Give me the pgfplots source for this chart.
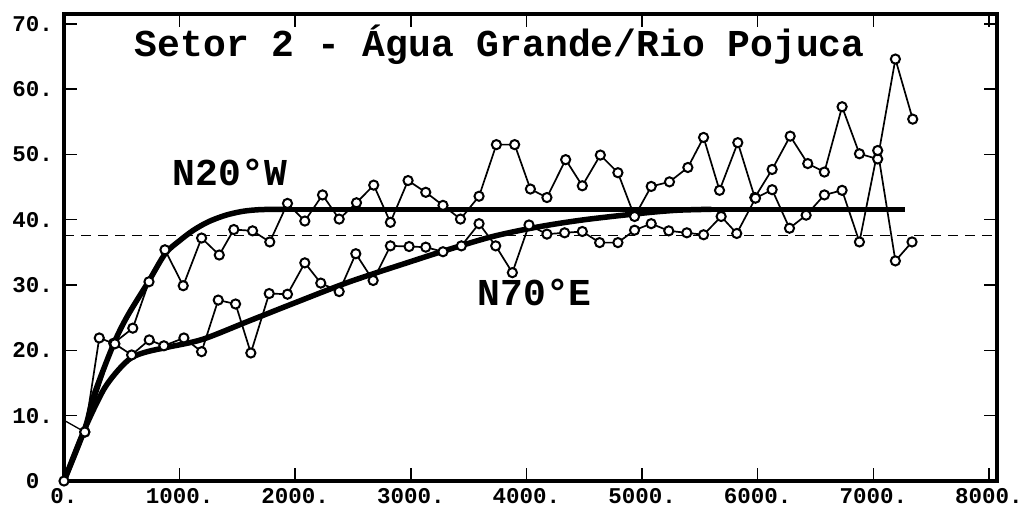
\documentclass[border=0pt]{standalone}
\usepackage{pgfplots}
\pgfplotsset{compat=1.18}
\usepackage{fontspec}
\setmainfont{Liberation Mono}

\pgfplotstableread{
x y
0 0
180 7.5
430 21.1
595 23.4
735 30.5
873 35.4
1031 29.9
1190 37.2
1343 34.6
1469 38.5
1631 38.3
1780 36.6
1933 42.5
2083 39.8
2236 43.8
2380 40.1
2530 42.6
2679 45.3
2823 39.6
2976 46.0
3129 44.2
3278 42.2
3429 40.1
3590 43.6
3740 51.5
3898 51.5
4034 44.7
4177 43.4
4339 49.2
4483 45.2
4639 49.9
4791 47.2
4935 40.5
5079 45.1
5237 45.8
5396 48.0
5532 52.6
5670 44.5
5828 51.8
5975 43.4
6125 47.7
6281 52.8
6433 48.6
6577 47.3
6730 57.3
6880 50.1
7038 49.3
7191 64.6
7341 55.4
}\nwest

\pgfplotstableread{
x y
180 7.5
305 21.9
440 21.0
585 19.3
737 21.6
864 20.7
1037 21.9
1190 19.8
1334 27.7
1484 27.1
1616 19.6
1775 28.7
1933 28.6
2083 33.4
2221 30.3
2380 29.0
2524 34.8
2674 30.7
2823 36.0
2985 35.9
3129 35.8
3278 35.1
3437 36.0
3590 39.4
3734 36.0
3878 31.9
4022 39.2
4177 37.8
4330 38.0
4483 38.2
4633 36.5
4791 36.5
4935 38.4
5079 39.4
5231 38.3
5387 38.0
5532 37.7
5684 40.5
5819 37.9
5981 43.3
6125 44.6
6275 38.7
6419 40.7
6577 43.8
6730 44.5
6880 36.6
7038 50.6
7191 33.7
7335 36.6
}\neast

\begin{document}
\begin{tikzpicture}
\begin{axis}[
    scale only axis,
    width=933bp, height=467bp,
    xmin=0, xmax=8070, ymin=0, ymax=71.5,
    xtick={0,1000,...,8000},
    xticklabels={0.,1000.,2000.,3000.,4000.,5000.,6000.,7000.,8000.},
    ytick={0,10,...,70},
    yticklabels={0\phantom{.},10.,20.,30.,40.,50.,60.,70.},
    tick align=inside,
    major tick length=13bp,
    every tick/.style={black, line width=1.5bp},
    axis line style={line width=3.5bp},
    ticklabel style={font=\fontsize{22.5bp}{24bp}\selectfont\bfseries},
    xticklabel style={inner sep=0pt, yshift=-7bp},
    yticklabel style={inner sep=0pt, xshift=-11bp},
    clip=false,
]
% mean line
\addplot[black, line width=1.3bp, dash pattern=on 10bp off 7bp] coordinates {(0,37.6) (8070,37.6)};

% stray segment near the origin
\addplot[black, line width=1.3bp] coordinates {(0,9.3) (180,7.5)};

\addplot[black, line width=1.7bp, mark=*, mark size=4.6bp,
    mark options={fill=white, draw=black, line width=2bp, solid}] table {\nwest};
\addplot[black, line width=1.7bp, mark=*, mark size=4.6bp,
    mark options={fill=white, draw=black, line width=2bp, solid}] table {\neast};

% fitted models
\addplot[black, line width=5.5bp, smooth, tension=0.5] coordinates {
    (0,0) (180,8) (260,13.2) (430,21) (550,25.3) (730,30.5) (875,34.8)
    (1000,36.8) (1120,38.4) (1250,39.7) (1400,40.7) (1550,41.3) (1700,41.55) (1900,41.6)};
\addplot[black, line width=5.5bp] coordinates {(1850,41.6) (7270,41.6)};
\addplot[black, line width=5.5bp, smooth, tension=0.5] coordinates {
    (0,0) (180,8) (340,13.9) (470,17.0) (585,18.9) (720,19.8) (900,20.5)
    (1200,21.7) (1600,24.5) (2000,27.3) (2470,30.5) (3000,33.6) (3300,35.3)
    (3700,37.4) (4100,38.9) (4500,40.0) (5000,41.0) (5300,41.45) (5600,41.6)};
\addplot[black, line width=5.5bp] coordinates {(5550,41.6) (7270,41.6)};

\node[anchor=base, font=\fontsize{38bp}{40bp}\selectfont\bfseries] at (axis cs:3769,65.0) {Setor 2 - Água Grande/Rio Pojuca};
\node[anchor=base, font=\fontsize{38bp}{40bp}\selectfont\bfseries] at (axis cs:1435,45.2) {N20°W};
\node[anchor=base, font=\fontsize{38bp}{40bp}\selectfont\bfseries] at (axis cs:4071,26.8) {N70°E};
\end{axis}
\pgfresetboundingbox
\path ([xshift=-64bp,yshift=-29bp]current axis.south west) rectangle ([xshift=28bp,yshift=14bp]current axis.north east);
\end{tikzpicture}
\end{document}
